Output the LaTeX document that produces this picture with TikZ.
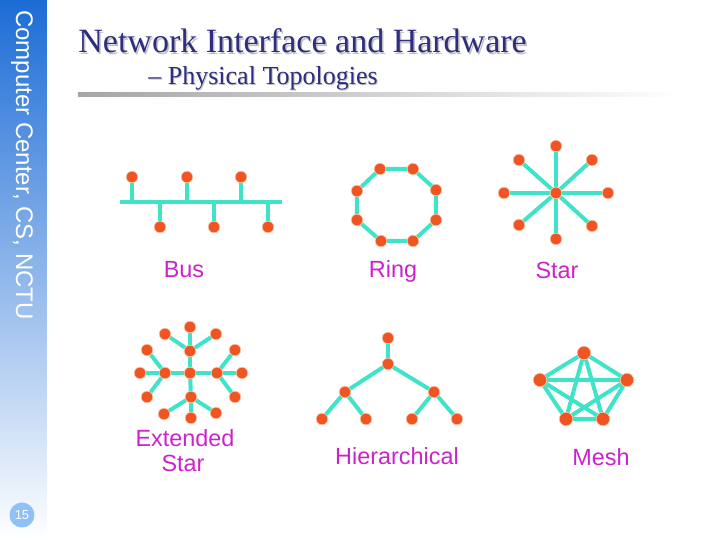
\documentclass[tikz,border=0pt]{standalone}
\usepackage{fontspec}
\setmainfont{Liberation Serif}
\newfontfamily\arialf{Liberation Sans}
\definecolor{nodeor}{RGB}{240,84,34}
\definecolor{nodehalo}{RGB}{250,200,170}
\definecolor{linkc}{RGB}{64,226,200}
\definecolor{lblc}{RGB}{204,34,204}
\definecolor{titlec}{RGB}{46,46,128}
\definecolor{sidetop}{RGB}{28,108,214}
\definecolor{sidemid}{RGB}{160,192,236}
\definecolor{pagec}{RGB}{144,192,248}
\tikzset{
  dev/.style={circle, fill=nodeor, draw=nodehalo, line width=0.3pt, inner sep=0pt, minimum size=5.8pt},
  bigdev/.style={dev, minimum size=6.8pt},
  link/.style={draw=linkc, line width=2pt},
  lbl/.style={text=lblc, font=\arialf\fontsize{11.7}{14}\selectfont, inner sep=0pt},
}
\begin{document}
\begin{tikzpicture}[x=0.5pt, y=-0.5pt]
\useasboundingbox (0,0) rectangle (720,540);
% sidebar
\shade[top color=sidetop, middle color=sidemid, bottom color=white] (0,0) rectangle (47,540);
\node[rotate=-90, text=white, font=\arialf\fontsize{12}{14}\selectfont, inner sep=0pt] (side) at (22,165) {Computer Center, CS, NCTU};
\node[circle, fill=pagec, minimum size=12.5pt, inner sep=0pt, text=white, font=\arialf\fontsize{6.5}{7}\selectfont] (pg) at (22,515) {15};
% title
\node[anchor=base west, inner sep=0pt, text=gray!50, font=\fontsize{17}{20}\selectfont] (titsh) at (79.5,54.5) {Network Interface and Hardware};
\node[anchor=base west, inner sep=0pt, text=titlec, font=\fontsize{17}{20}\selectfont] (tit) at (78,53) {Network Interface and Hardware};
\node[anchor=base west, inner sep=0pt, text=gray!50, font=\fontsize{13}{16}\selectfont] (subsh) at (149,86) {-- Physical Topologies};
\node[anchor=base west, inner sep=0pt, text=titlec, font=\fontsize{13}{16}\selectfont] (sub) at (148,85) {-- Physical Topologies};
\shade[left color=gray!70, right color=white] (78,93) rectangle (680,97);
% Bus
\node[dev] (b1) at (132,177) {};
\node[dev] (b2) at (187,177) {};
\node[dev] (b3) at (241,177) {};
\node[dev] (b4) at (160,227) {};
\node[dev] (b5) at (214,227) {};
\node[dev] (b6) at (268,227) {};
\coordinate (busL) at (120,202);
\coordinate (busR) at (282,202);
\draw[link] (busL) -- (busR);
\foreach \n in {b1,b2,b3,b4,b5,b6} \draw[link] (\n) -- (\n |- busL);
\node[lbl] (lbus) at (184,270) {Bus};
% Ring
\node[dev] (r1) at (380,169) {};
\node[dev] (r2) at (413,169) {};
\node[dev] (r3) at (436,190) {};
\node[dev] (r4) at (436,220) {};
\node[dev] (r5) at (413,241) {};
\node[dev] (r6) at (381,241) {};
\node[dev] (r7) at (357,220) {};
\node[dev] (r8) at (357,191) {};
\draw[link] (r1) -- (r2) (r2) -- (r3) (r3) -- (r4) (r4) -- (r5) (r5) -- (r6) (r6) -- (r7) (r7) -- (r8) (r8) -- (r1);
\node[lbl] (lring) at (393,271) {Ring};
% Star
\node[dev] (s0) at (556,193) {};
\node[dev] (s1) at (556,146) {};
\node[dev] (s2) at (592,160) {};
\node[dev] (s3) at (608,193) {};
\node[dev] (s4) at (592,226) {};
\node[dev] (s5) at (556,239) {};
\node[dev] (s6) at (519,225) {};
\node[dev] (s7) at (504,193) {};
\node[dev] (s8) at (519,160) {};
\foreach \n in {s1,s2,s3,s4,s5,s6,s7,s8} \draw[link] (s0) -- (\n);
\node[lbl] (lstar) at (557,270) {Star};
% Extended star
\node[dev] (e0) at (190,373) {};
\node[dev] (eu) at (190,351) {};
\node[dev] (ed) at (191,397) {};
\node[dev] (el) at (165,373) {};
\node[dev] (er) at (217,373) {};
\node[dev] (eu1) at (190,327) {};
\node[dev] (eu2) at (165,334) {};
\node[dev] (eu3) at (216,334) {};
\node[dev] (el1) at (140,373) {};
\node[dev] (el2) at (147,350) {};
\node[dev] (el3) at (147,397) {};
\node[dev] (er1) at (242,373) {};
\node[dev] (er2) at (235,350) {};
\node[dev] (er3) at (235,397) {};
\node[dev] (ed1) at (191,418) {};
\node[dev] (ed2) at (164,414) {};
\node[dev] (ed3) at (216,413) {};
\foreach \n in {eu,ed,el,er} \draw[link] (e0) -- (\n);
\foreach \n in {eu1,eu2,eu3} \draw[link] (eu) -- (\n);
\foreach \n in {el1,el2,el3} \draw[link] (el) -- (\n);
\foreach \n in {er1,er2,er3} \draw[link] (er) -- (\n);
\foreach \n in {ed1,ed2,ed3} \draw[link] (ed) -- (\n);
\node[lbl] (lext1) at (185,438) {Extended};
\node[lbl] (lext2) at (183,463) {Star};
% Hierarchical
\node[dev] (h0) at (388,338) {};
\node[dev] (h1) at (388,364) {};
\node[dev] (h2) at (345,392) {};
\node[dev] (h3) at (434,392) {};
\node[dev] (h4) at (322,419) {};
\node[dev] (h5) at (366,419) {};
\node[dev] (h6) at (412,419) {};
\node[dev] (h7) at (457,419) {};
\draw[link] (h0) -- (h1) (h1) -- (h2) (h1) -- (h3) (h2) -- (h4) (h2) -- (h5) (h3) -- (h6) (h3) -- (h7);
\node[lbl] (lhier) at (397,456) {Hierarchical};
% Mesh
\node[bigdev] (m1) at (584,353) {};
\node[bigdev] (m2) at (540,380) {};
\node[bigdev] (m3) at (627,380) {};
\node[bigdev] (m4) at (566,419) {};
\node[bigdev] (m5) at (603,419) {};
\draw[link] (m1) -- (m2) (m1) -- (m3) (m1) -- (m4) (m1) -- (m5)
  (m2) -- (m3) (m2) -- (m4) (m2) -- (m5) (m3) -- (m4) (m3) -- (m5) (m4) -- (m5);
\node[lbl] (lmesh) at (601,457) {Mesh};
\end{tikzpicture}
\end{document}
